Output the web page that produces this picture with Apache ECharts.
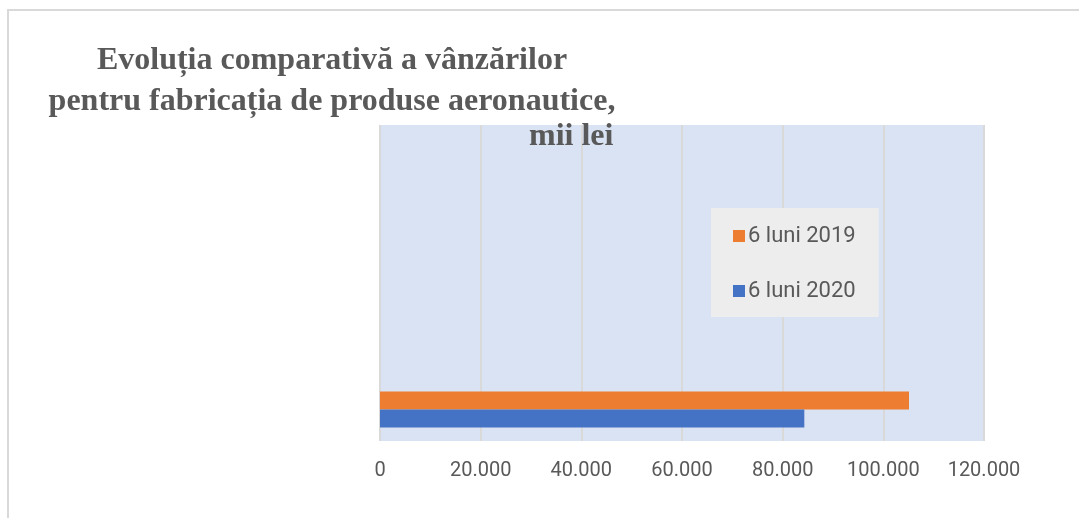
<!DOCTYPE html>
<html><head><meta charset="utf-8">
<script src="https://cdn.jsdelivr.net/npm/echarts@6/dist/echarts.min.js"></script>
<style>html,body{margin:0;padding:0;background:#fff}#c{width:1079px;height:518px}</style>
</head><body><div id="c"></div>
<script>
const categories = ['Vânzări', '', '', '', ''];
const series2019 = [105100, null, null, null, null];
const series2020 = [84300, null, null, null, null];
const seriesNames = ['6 luni 2019', '6 luni 2020'];
const titleLines = ['Evoluția comparativă a vânzărilor', 'pentru fabricația de produse aeronautice,', 'mii lei'];

const chart = echarts.init(document.getElementById('c'));
const fmt = v => v === 0 ? '0' : String(v).replace(/\B(?=(\d{3})+(?!\d))/g, '.');
const titleStyle = {fontFamily: 'Liberation Serif', fontWeight: 'bold', fontSize: 32, color: '#595959'};
chart.setOption({
  animation: false,
  backgroundColor: '#fff',
  graphic: [{type: 'rect', shape: {x: 8, y: 10, width: 1100, height: 600}, style: {fill: 'none', stroke: '#d9d9d9', lineWidth: 2}, z: -10}],
  title: [
    {text: titleLines[0], left: 327, top: 40, textAlign: 'center', textStyle: titleStyle},
    {text: titleLines[1], left: 327, top: 81, textAlign: 'center', textStyle: titleStyle},
    {text: titleLines[2], left: 524, top: 116, textStyle: titleStyle, z: 20}
  ],
  legend: {
    orient: 'vertical', left: 711, top: 208,
    padding: [17, 23, 15, 22], itemGap: 33,
    backgroundColor: '#ededed',
    itemWidth: 12, itemHeight: 12, icon: 'rect',
    textStyle: {fontFamily: 'Roboto, sans-serif', fontSize: 22, color: '#595959', padding: [0, 0, 0, -2]},
    data: seriesNames
  },
  grid: {left: 380, right: 95, top: 125, bottom: 77, show: true, backgroundColor: '#dae3f3', borderWidth: 0},
  xAxis: {
    type: 'value', min: 0, max: 120000, interval: 20000,
    axisLine: {show: false}, axisTick: {show: false},
    splitLine: {show: true, lineStyle: {color: '#d9d9d9', width: 2}},
    axisLabel: {formatter: fmt, fontFamily: 'Roboto, sans-serif', fontSize: 20, color: '#595959', margin: 20}
  },
  yAxis: {
    type: 'category', data: categories,
    axisLine: {show: false}, axisTick: {show: false}, axisLabel: {show: false}
  },
  series: [
    {name: seriesNames[0], type: 'bar', data: series2019, itemStyle: {color: '#ed7d31'}, barGap: '0%', barCategoryGap: '43%'},
    {name: seriesNames[1], type: 'bar', data: series2020, itemStyle: {color: '#4472c4'}, barGap: '0%', barCategoryGap: '43%'}
  ]
});
</script></body></html>
